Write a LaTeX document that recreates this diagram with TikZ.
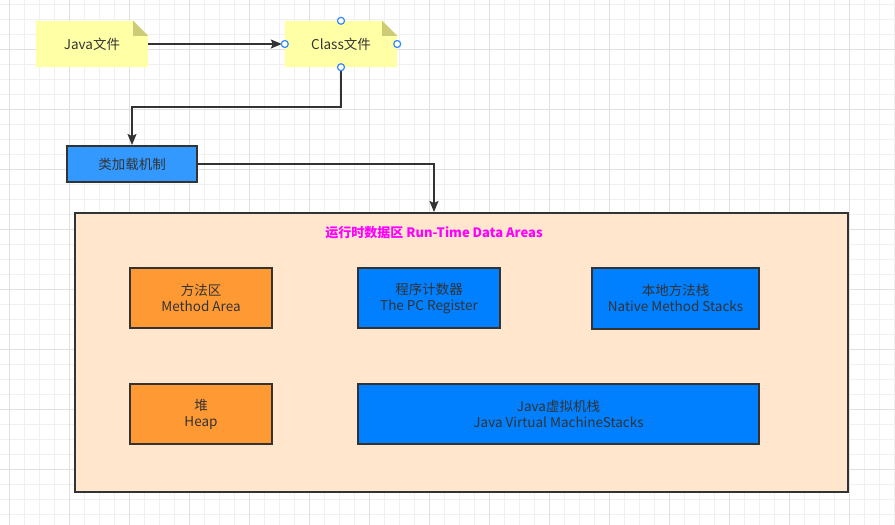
\documentclass[tikz,border=0pt]{standalone}
\usepackage{fontspec}
\setmainfont{Noto Sans CJK SC}
\usetikzlibrary{arrows.meta,backgrounds}
\definecolor{gridminor}{HTML}{F0F0F0}
\definecolor{gridmajor}{HTML}{E0E0E0}
\definecolor{notefill}{HTML}{FFFFA6}
\definecolor{foldfill}{HTML}{CCCC77}
\definecolor{loadblue}{HTML}{3399FF}
\definecolor{areaorange}{HTML}{FF9933}
\definecolor{areablue}{HTML}{007FFF}
\definecolor{peach}{HTML}{FFE6CC}
\definecolor{edgecol}{HTML}{333333}
\definecolor{txt}{HTML}{333333}
\definecolor{handleblue}{HTML}{3388FF}
\definecolor{titlemag}{HTML}{FF00FF}
\begin{document}
\begin{tikzpicture}[x=1pt,y=-1pt,
  lbl/.style={font=\fontsize{13.5}{16}\selectfont, text=txt, align=center},
  notebox/.style={lbl, minimum width=112pt, minimum height=46pt, inner sep=0pt},
  areabox/.style={lbl, draw=edgecol, line width=2pt, inner sep=0pt},
  conn/.style={draw=edgecol, line width=1.5pt, -{Stealth[length=11pt,width=9pt,inset=2pt]}},
  handle/.style={circle, draw=handleblue, fill=white, line width=1.2pt, minimum size=7pt, inner sep=0pt},
  gminor/.style={draw=gridminor, line width=1pt},
  gmajor/.style={draw=gridmajor, line width=1pt}]
\useasboundingbox (0,0) rectangle (895,525);

% notes (text nodes)
\node[notebox] (java) at (92,44) {Java文件};
\node[notebox] (class) at (341,44) {Class文件};

\begin{scope}[on background layer]
  \fill[white] (0,0) rectangle (895,525);
  \foreach \x in {9,24,...,894} \draw[gminor] (\x,0) -- (\x,525);
  \foreach \y in {4,19,...,524} \draw[gminor] (0,\y) -- (895,\y);
  \foreach \x in {9,69,...,894} \draw[gmajor] (\x,0) -- (\x,525);
  \foreach \y in {49,109,...,524} \draw[gmajor] (0,\y) -- (895,\y);
  \foreach \n in {java,class}{
    \fill[notefill] (\n.north west) -- ([xshift=-15pt]\n.north east)
      -- ([yshift=-15pt]\n.north east) -- (\n.south east) -- (\n.south west) -- cycle;
    \fill[foldfill] ([xshift=-15pt]\n.north east) -- ([xshift=-15pt,yshift=-15pt]\n.north east)
      -- ([yshift=-15pt]\n.north east) -- cycle;
  }
\end{scope}

% class loading box
\node[areabox, fill=loadblue, minimum width=130pt, minimum height=36pt] (load) at (132,164) {类加载机制};

% runtime data area
\node[areabox, fill=peach, minimum width=773pt, minimum height=279pt] (rt) at (461.5,352.5) {};
\node[font=\bfseries\fontsize{13}{16}\selectfont, text=titlemag, inner sep=0pt] (title) at (434,233) {运行时数据区 Run-Time Data Areas};

\node[areabox, fill=areaorange, minimum width=142pt, minimum height=60pt] (method) at (201,298) {方法区\\Method Area};
\node[areabox, fill=areablue, minimum width=142pt, minimum height=60pt] (pc) at (429,298) {程序计数器\\The PC Register};
\node[areabox, fill=areablue, minimum width=167pt, minimum height=61pt] (native) at (675.5,298) {本地方法栈\\Native Method Stacks};
\node[areabox, fill=areaorange, minimum width=142pt, minimum height=60pt] (heap) at (201,414) {堆\\Heap};
\node[areabox, fill=areablue, minimum width=401pt, minimum height=60pt] (jvm) at (558.5,414) {Java虚拟机栈\\Java Virtual MachineStacks};

% connectors
\draw[conn, shorten >=3pt] (java.east) -- (class.west);
\draw[conn] (class.south) -- ++(0,40) -| (load.north);
\draw[conn] (load.east) -| (title |- rt.north);

% selection handles
\node[handle] (hn) at (class.north) {};
\node[handle] (hw) at (class.west) {};
\node[handle] (he) at (class.east) {};
\node[handle] (hs) at (class.south) {};
\end{tikzpicture}
\end{document}
